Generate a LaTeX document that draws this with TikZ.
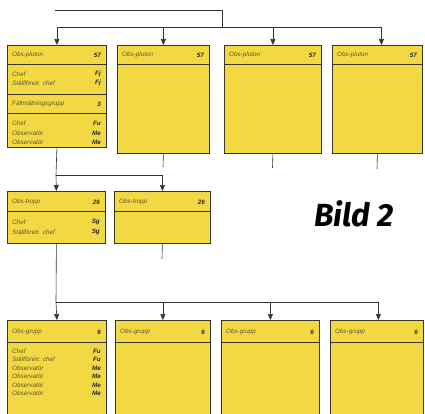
\documentclass[tikz,border=0pt]{standalone}
\usepackage{fontspec}
\setmainfont{Liberation Sans}
\newfontfamily\bildfont{Fira Sans}
\usepackage{xcolor}
\usetikzlibrary{arrows.meta,positioning}

\definecolor{boxyellow}{RGB}{242,217,68}
\definecolor{boxline}{RGB}{60,54,36}
\definecolor{itemtext}{RGB}{100,88,40}

\begin{document}
\begin{tikzpicture}[x=1pt,y=-1pt,
        box/.style={draw=boxline,line width=0.8pt,fill=boxyellow,anchor=north west,inner sep=0pt},
        sep/.style={draw=boxline,line width=0.6pt},
        item/.style={font=\fontsize{6.3}{7}\selectfont\itshape,text=itemtext,anchor=west,inner sep=0pt},
        rank/.style={font=\fontsize{6.3}{7}\selectfont\bfseries\itshape,text=black!85,anchor=east,inner sep=0pt},
        link/.style={line width=0.6pt,draw=black!80},
        arr/.style={link,-{Triangle[length=6pt,width=5pt]}}]
        \useasboundingbox (0,0) rectangle (425,414);
        \clip (0,0) rectangle (425,414);

        % Obs-pluton boxes
        \node[box,minimum width=99pt,minimum height=102pt] (p1) at (7,45) {};
        \node[box,minimum width=92pt,minimum height=108pt] (p2) at (117,45) {};
        \node[box,minimum width=97pt,minimum height=108pt] (p3) at (224,45) {};
        \node[box,minimum width=90pt,minimum height=108pt] (p4) at (332,45) {};
        \draw[sep] (7,64) -- (106,64) (117,64) -- (209,64) (224,64) -- (321,64) (332,64) -- (422,64);
        \draw[sep] (7,94) -- (106,94) (7,113) -- (106,113);

        \node[item] (p1h) at (12,55) {Obs-pluton};
        \node[rank] (p1n) at (101,55) {57};
        \node[item] (p1a) at (12,74) {Chef};
        \node[rank] (p1ar) at (101,74) {Fj};
        \node[item] (p1b) at (12,83) {Ställföretr. chef};
        \node[rank] (p1br) at (101,83) {Fj};
        \node[item] (p1c) at (12,104) {Fältmätningsgrupp};
        \node[rank] (p1cr) at (101,104) {3};
        \node[item] (p1d) at (12,123) {Chef};
        \node[rank] (p1dr) at (101,123) {Fu};
        \node[item] (p1e) at (12,133) {Observatör};
        \node[rank] (p1er) at (101,133) {Me};
        \node[item] (p1f) at (12,142) {Observatör};
        \node[rank] (p1fr) at (101,142) {Me};

        \node[item] (p2h) at (122,55) {Obs-pluton};
        \node[rank] (p2n) at (204,55) {57};
        \node[item] (p3h) at (229,55) {Obs-pluton};
        \node[rank] (p3n) at (316,55) {57};
        \node[item] (p4h) at (337,55) {Obs-pluton};
        \node[rank] (p4n) at (417,55) {57};

        % Obs-tropp boxes
        \node[box,minimum width=98pt,minimum height=52pt] (t1) at (7,191) {};
        \node[box,minimum width=96pt,minimum height=52pt] (t2) at (114,191) {};
        \draw[sep] (7,211) -- (105,211) (114,211) -- (210,211);

        \node[item] (t1h) at (12,202) {Obs-tropp};
        \node[rank] (t1n) at (100,202) {26};
        \node[item] (t1a) at (12,222) {Chef};
        \node[rank] (t1ar) at (100,222) {Sg};
        \node[item] (t1b) at (12,232) {Ställföretr. chef};
        \node[rank] (t1br) at (100,232) {Sg};
        \node[item] (t2h) at (119,202) {Obs-tropp};
        \node[rank] (t2n) at (205,202) {26};

        % Obs-grupp boxes
        \node[box,minimum width=99pt,minimum height=100pt] (g1) at (7,320) {};
        \node[box,minimum width=95pt,minimum height=100pt] (g2) at (115,320) {};
        \node[box,minimum width=98pt,minimum height=100pt] (g3) at (221,320) {};
        \node[box,minimum width=93pt,minimum height=100pt] (g4) at (330,320) {};
        \draw[sep] (7,342) -- (106,342) (115,342) -- (210,342) (221,342) -- (319,342) (330,342) -- (423,342);

        \node[item] (g1h) at (12,332) {Obs-grupp};
        \node[rank] (g1n) at (101,332) {6};
        \node[item] (g1a) at (12,351) {Chef};
        \node[rank] (g1ar) at (101,351) {Fu};
        \node[item] (g1b) at (12,359.5) {Ställföretr. chef};
        \node[rank] (g1br) at (101,359.5) {Fu};
        \node[item] (g1c) at (12,368) {Observatör};
        \node[rank] (g1cr) at (101,368) {Me};
        \node[item] (g1d) at (12,376.5) {Observatör};
        \node[rank] (g1dr) at (101,376.5) {Me};
        \node[item] (g1e) at (12,385) {Observatör};
        \node[rank] (g1er) at (101,385) {Me};
        \node[item] (g1f) at (12,393.5) {Observatör};
        \node[rank] (g1fr) at (101,393.5) {Me};
        \node[item] (g2h) at (120,332) {Obs-grupp};
        \node[rank] (g2n) at (205,332) {6};
        \node[item] (g3h) at (226,332) {Obs-grupp};
        \node[rank] (g3n) at (314,332) {6};
        \node[item] (g4h) at (335,332) {Obs-grupp};
        \node[rank] (g4n) at (418,332) {6};

        % Title
        \node[font=\bildfont\fontsize{32}{32}\selectfont\bfseries\itshape] (bild) at (354,214) {Bild 2};

        % Connectors
        \coordinate (src) at (55,10);
        \coordinate (j1) at (222,27);
        \draw[link] (src) -| (j1);
        \draw[arr] (j1) -| (p1.north);
        \draw[arr] (j1) -| (p2.north);
        \draw[arr] (j1) -| (p3.north);
        \draw[arr] (j1) -| ([xshift=4pt]p4.north);

        \coordinate (s2) at (163,167);
        \coordinate (s3) at (272.5,168);
        \coordinate (s4) at (377,169);
        \draw[link] (p2.south) -- (s2);
        \draw[link] (p3.south) -- (s3);
        \draw[link] (p4.south) -- (s4);

        \coordinate (j2) at (56,175);
        \draw[link] (p1.south) -- (j2);
        \draw[arr] (j2) -- (t1.north);
        \draw[arr] (j2) -| (t2.north);

        \coordinate (s5) at (162,259);
        \draw[link] (t2.south) -- (s5);

        \coordinate (j3) at (56,302);
        \draw[link] (t1.south) -- (j3);
        \draw[arr] (j3) -- (g1.north);
        \draw[arr] (j3) -| (g2.north);
        \draw[arr] (j3) -| (g3.north);
        \draw[arr] (j3) -| ([xshift=1.5pt]g4.north);
\end{tikzpicture}
\end{document}
